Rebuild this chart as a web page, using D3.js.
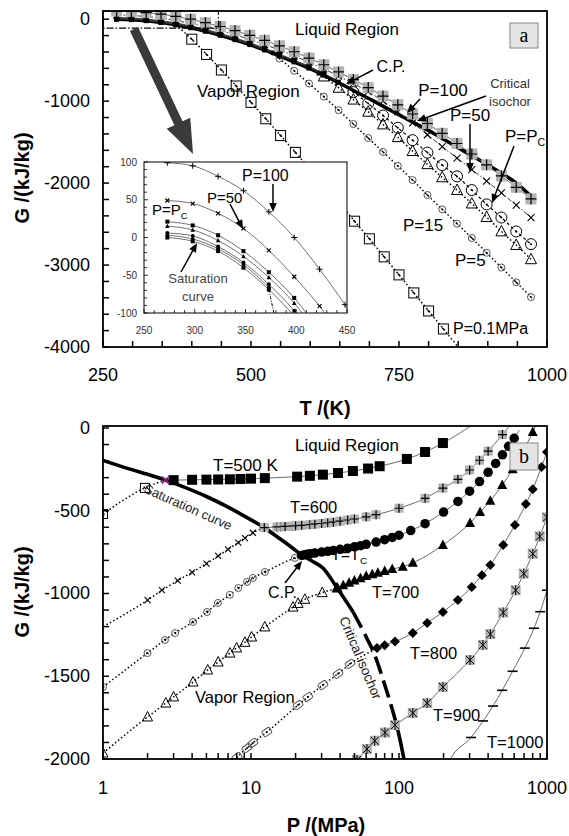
<!DOCTYPE html>
<html><head><meta charset="utf-8">
<script src="https://cdn.jsdelivr.net/npm/d3@7"></script>
<style>
body{margin:0;background:#fff;}
svg{display:block;font-family:"Liberation Sans",Arial,Helvetica,sans-serif;}
</style></head><body>
<svg id="chart" width="569" height="836"></svg>
<script>
// ===== Panel (a): Gibbs energy G vs temperature T along isobars =====
const tTicksA = [250, 500, 750, 1000];
const gTicksA = [0, -1000, -2000, -3000, -4000];
const insetTicksT = [250, 300, 350, 400, 450];
const insetTicksG = [100, 50, 0, -50, -100];

const tGrid = [273, 298, 323, 348, 373, 398, 423, 448, 473, 498, 523, 548, 573, 598, 623, 648, 673, 698, 723, 748, 773, 798, 823, 848, 873, 898, 923, 948, 973];
const gP100 = [99, 95, 81, 62, 34, 0, -42, -89, -140, -197, -258, -325, -397, -474, -556, -644, -737, -835, -938, -1045, -1157, -1273, -1393, -1517, -1645, -1777, -1912, -2051, -2193];
const gP50 = [49, 45, 32, 12, -17, -52, -91, -138, -190, -247, -309, -376, -448, -525, -607, -695, -785, -885, -1000, -1130, -1265, -1410, -1555, -1695, -1835, -1975, -2120, -2270, -2420];

const tPcLiq = [273, 298, 323, 348, 373, 398, 423, 448, 473, 498, 523, 548, 573, 598, 623, 647.1];
const gPcLiq = [21, 16, 3, -18, -46, -80, -124, -172, -227, -287, -352, -423, -500, -580, -667, -770];
const tPcGas = [647.1, 673, 698, 723, 748, 773, 798, 823, 848, 873, 898, 923, 948, 973];
const gPcGas = [-770, -890, -1030, -1175, -1325, -1476, -1628, -1780, -1918, -2085, -2260, -2420, -2590, -2745];

const tP15Liq = [273, 298, 323, 348, 373, 398, 423, 448, 473, 498, 523, 548, 573, 598, 615];
const gP15Liq = [15, 10, -4, -25, -53, -87, -131, -180, -236, -297, -363, -435, -512, -592, -657];
const tP15Gas = [615, 623, 648, 673, 698, 723, 748, 773, 798, 823, 848, 873, 898, 923, 948, 973];
const gP15Gas = [-657, -700, -838, -982, -1130, -1285, -1440, -1610, -1770, -1930, -2085, -2250, -2415, -2590, -2756, -2930];

const tP5Liq = [273, 298, 323, 348, 373, 398, 423, 448, 473, 498, 523, 537];
const gP5Liq = [6, 2, -12, -33, -62, -97, -141, -191, -247, -307, -374, -414];
const tP5Gas = [537, 548, 573, 598, 623, 648, 673, 698, 723, 748, 773, 798, 823, 848, 873, 898, 923, 948, 973];
const gP5Gas = [-414, -480, -630, -785, -945, -1110, -1280, -1450, -1620, -1790, -1963, -2145, -2320, -2495, -2670, -2850, -3030, -3210, -3390];

const tP01Liq = [273, 298, 323, 348, 373];
const gP01Liq = [3, -2, -15, -36, -66];
const tP01Gas = [373, 400, 425, 450, 475, 500, 525, 550, 575, 600, 625, 650, 675, 700, 725, 750, 775, 800, 825, 850];
const gP01Gas = [-69, -244, -430, -620, -815, -1015, -1215, -1420, -1625, -1830, -2040, -2250, -2465, -2680, -2900, -3120, -3340, -3560, -3780, -4000];

const tSat = [273, 298, 323, 348, 373, 398, 423, 448, 473, 498, 523, 548, 573, 598, 623, 647.1];
const gSat = [0, -5, -18, -40, -69, -104, -147, -196, -250, -310, -375, -447, -521, -596, -683, -770];

const tIsoA = [647.1, 673, 698, 723, 748, 773, 798, 823, 848, 873, 898, 923, 948, 973];
const gIsoA = [-770, -870, -965, -1060, -1160, -1255, -1350, -1455, -1560, -1665, -1770, -1880, -2000, -2160];

// ===== Panel (b): Gibbs energy G vs pressure P along isotherms =====
const pTicksB = [1, 10, 100, 1000];
const gTicksB = [0, -500, -1000, -1500, -2000];

const pSat = [1, 1.5, 2, 2.64, 3.5, 5, 7, 10, 12.3, 15, 18, 20, 22.064];
const gSatB = [-196, -247, -280, -315, -356, -414, -478, -555, -602, -657, -708, -739, -770];
const pIso = [22.064, 26, 30.6, 38.2, 49, 61, 67, 73, 78, 84, 90, 96, 102, 108, 114];
const gIso = [-770, -805, -846, -967, -1112, -1275, -1350, -1440, -1520, -1610, -1700, -1790, -1890, -2000, -2100];

const p500Gas = [1, 1.92, 2.64];
const g500Gas = [-520, -362, -315];
const p500Liq = [2.64, 3, 4, 5, 6, 7.2, 8.5, 10, 12.4, 20.5, 25, 30.6, 38.7, 48.8, 61.8, 74, 113, 150, 198, 250, 320];
const g500Liq = [-315, -315, -313, -312, -311, -310, -308, -306, -303, -294, -289, -282, -272, -260, -245, -231, -187, -145, -91, -38, 25];

const p600Gas = [1, 2, 2.5, 3.2, 4, 5, 6, 7, 8.2, 9.1, 10.3, 12.3];
const g600Gas = [-1200, -1040, -980, -922, -872, -820, -773, -733, -692, -665, -633, -602];
const p600Liq = [12.3, 15, 16, 17, 19, 20, 22, 25, 27, 30, 33, 36, 40, 45, 50, 60, 70, 100, 150, 198, 250, 300, 350, 400, 500, 560];
const g600Liq = [-602, -598, -597, -595, -593, -591, -588, -584, -581, -577, -573, -569, -563, -556, -550, -537, -524, -485, -425, -363, -310, -254, -195, -140, -40, 15];

const pTcGas = [1, 2, 2.62, 3.07, 4.06, 5.04, 5.98, 7.2, 8.2, 9.4, 10.3, 12.4, 19.8, 22.064];
const gTcGas = [-1565, -1360, -1281, -1239, -1172, -1112, -1057, -1008, -967, -930, -906, -870, -785, -770];
const pTcLiq = [22.064, 23, 24, 25, 27, 30, 33, 36, 40, 45, 50, 55, 60, 70, 80, 90, 100, 120, 150, 200, 250, 300, 350, 400, 450, 500, 550, 600, 650];
const gTcLiq = [-770, -766, -763, -760, -756, -750, -745, -740, -733, -726, -718, -711, -703, -689, -675, -661, -648, -620, -578, -508, -444, -382, -324, -268, -214, -162, -111, -62, -14];

const p700Gas = [1, 2, 2.66, 3.0, 4.06, 5.1, 6.0, 7.2, 8.0, 9.1, 10.1, 12.4, 19.2, 20.8, 23.1, 30.3, 38.2];
const g700Gas = [-1964, -1746, -1662, -1625, -1535, -1462, -1414, -1360, -1329, -1295, -1263, -1202, -1082, -1060, -1035, -995, -967];
const p700Liq = [38.2, 42, 46, 50, 55, 60, 66, 72, 80, 90, 106, 124, 198, 302, 353, 414, 498, 586, 650, 801, 850];
const g700Liq = [-967, -950, -935, -922, -908, -895, -884, -874, -864, -852, -838, -815, -707, -574, -508, -440, -345, -250, -182, -24, 27];

const p800Gas = [6.5, 8.05, 9.4, 10.3, 12.8, 20.8, 24.2, 30.6, 38.7, 46.7, 66.6];
const g800Gas = [-2080, -1988, -1934, -1903, -1837, -1674, -1625, -1553, -1485, -1425, -1345];
const p800Liq = [66.6, 71, 80, 94, 124, 155, 198, 250, 310, 363, 414, 506, 607, 720, 801, 919, 1000];
const g800Liq = [-1345, -1330, -1312, -1290, -1239, -1178, -1112, -1040, -961, -890, -828, -707, -586, -460, -370, -235, -145];

const p900 = [40, 45, 52, 60.7, 68.6, 80.4, 94, 124, 155, 198, 302, 369, 414, 506, 614, 697, 801, 894, 1000];
const g900 = [-2120, -2060, -2006, -1940, -1890, -1840, -1795, -1722, -1662, -1565, -1402, -1311, -1245, -1115, -980, -880, -760, -655, -540];

const p1000 = [200, 220, 307, 370, 432, 498, 586, 708, 817, 900, 1000];
const g1000 = [-2100, -2010, -1870, -1770, -1680, -1585, -1470, -1330, -1210, -1110, -980];

// ===== drawing =====
const svg = d3.select("#chart");
const ax = d3.scaleLinear().domain([250, 1000]).range([103, 547]);
const ay = d3.scaleLinear().domain([-4000, 100]).range([347, 11]);
const ix = d3.scaleLinear().domain([250, 450]).range([144, 347]);
const iy = d3.scaleLinear().domain([-100, 100]).range([313, 162]);
const bx = d3.scaleLog().domain([1, 1000]).range([103, 547]);
const by = d3.scaleLinear().domain([-2000, 12]).range([759, 426]);

const defs = svg.append("defs");
function clip(id, x, y, w, h) {
  defs.append("clipPath").attr("id", id).append("rect").attr("x", x).attr("y", y).attr("width", w).attr("height", h);
}
clip("clipA", 103, 11, 444, 336);
clip("clipI", 144, 162, 203, 151);
clip("clipB", 103, 426, 444, 333);

function mark(g, type, s) {
  const h = s / 2, k = "#000";
  switch (type) {
    case "plusGray":
      g.append("rect").attr("x", -h).attr("y", -h).attr("width", s).attr("height", s).attr("fill", "#b3b3b3");
      g.append("path").attr("d", `M${-h},0H${h}M0,${-h}V${h}`).attr("stroke", k).attr("stroke-width", 1.2);
      break;
    case "plus":
      g.append("path").attr("d", `M${-h},0H${h}M0,${-h}V${h}`).attr("stroke", k).attr("stroke-width", 1);
      break;
    case "cross":
      g.append("path").attr("d", `M${-h},${-h}L${h},${h}M${-h},${h}L${h},${-h}`).attr("stroke", k).attr("stroke-width", 1.1);
      break;
    case "crossGray":
      g.append("rect").attr("x", -h).attr("y", -h).attr("width", s).attr("height", s).attr("fill", "#b3b3b3");
      g.append("path").attr("d", `M${-h * 0.8},${-h * 0.8}L${h * 0.8},${h * 0.8}M${-h * 0.8},${h * 0.8}L${h * 0.8},${-h * 0.8}M0,${-h}V${h}`).attr("stroke", k).attr("stroke-width", 1);
      break;
    case "purpleX":
      g.append("path").attr("d", `M${-h},${-h}L${h},${h}M${-h},${h}L${h},${-h}`).attr("stroke", "#8a1a8a").attr("stroke-width", 1.6);
      break;
    case "sqF":
      g.append("rect").attr("x", -h).attr("y", -h).attr("width", s).attr("height", s).attr("fill", k);
      break;
    case "triF":
      g.append("path").attr("d", `M0,${-h * 1.1}L${h},${h * 0.8}L${-h},${h * 0.8}Z`).attr("fill", k);
      break;
    case "triO":
      g.append("path").attr("d", `M0,${-h * 1.1}L${h},${h * 0.8}L${-h},${h * 0.8}Z`).attr("fill", "none").attr("stroke", k).attr("stroke-width", 1);
      break;
    case "circF":
      g.append("circle").attr("r", h).attr("fill", k);
      break;
    case "diaF":
      g.append("path").attr("d", `M0,${-h}L${h},0L0,${h}L${-h},0Z`).attr("fill", k);
      break;
    case "circDot":
      g.append("circle").attr("r", h).attr("fill", "none").attr("stroke", k).attr("stroke-width", 1);
      g.append("circle").attr("r", 1).attr("fill", k);
      break;
    case "circDotGray":
      g.append("circle").attr("r", h).attr("fill", "none").attr("stroke", "#555").attr("stroke-width", 1);
      g.append("path").attr("d", "M-1,-1L1,1").attr("stroke", "#000").attr("stroke-width", 1.2);
      break;
    case "sqDot":
      g.append("rect").attr("x", -h).attr("y", -h).attr("width", s).attr("height", s).attr("fill", "none").attr("stroke", k).attr("stroke-width", 1);
      g.append("path").attr("d", "M-1.3,-1.3L1.3,1.3").attr("stroke", k).attr("stroke-width", 1.4);
      break;
    case "sqDotGray":
      g.append("rect").attr("x", -h).attr("y", -h * 0.7).attr("width", s).attr("height", s * 0.7).attr("rx", 1.5).attr("transform", "rotate(-35)")
        .attr("fill", "none").attr("stroke", "#555").attr("stroke-width", 1);
      g.append("circle").attr("r", 1).attr("fill", k);
      break;
    case "dash":
      g.append("path").attr("d", `M${-h},0H${h}`).attr("stroke", k).attr("stroke-width", 1.6);
      break;
  }
}

function line(g, X, Y, xs, ys, st) {
  const pts = xs.map((v, i) => [X(v), Y(ys[i])]);
  g.append("path").attr("d", d3.line().curve(d3.curveMonotoneX)(pts))
    .attr("fill", "none").attr("stroke", st.color || "#333")
    .attr("stroke-width", st.width || 0.8)
    .attr("stroke-dasharray", st.dash || null);
}
const DOT = { width: 1.5, dash: "1.5,2.4", color: "#000" };
const THIN = { width: 0.8, color: "#444" };
const THICK = { width: 3.6, color: "#000" };

function marks(g, X, Y, xs, ys, type, size, from, to) {
  from = from == null ? 0 : from;
  to = to == null ? xs.length - 1 : to;
  const data = d3.range(from, to + 1).map(i => [X(xs[i]), Y(ys[i])]);
  g.selectAll(null).data(data).join("g")
    .attr("transform", d => `translate(${d[0]},${d[1]})`)
    .each(function () { mark(d3.select(this), type, size); });
}

function txt(g, x, y, s, o) {
  o = o || {};
  return g.append("text").attr("x", x).attr("y", y).text(s)
    .attr("font-size", o.size || 17).attr("fill", o.color || "#000")
    .attr("text-anchor", o.anchor || "start")
    .attr("font-weight", o.weight || "normal")
    .attr("font-family", o.family || null);
}
function subTxt(g, x, y, main, sub, size, anchor) {
  const t = g.append("text").attr("x", x).attr("y", y).attr("font-size", size).attr("text-anchor", anchor || "start");
  t.append("tspan").text(main);
  t.append("tspan").attr("font-size", size * 0.62).attr("dy", size * 0.25).text(sub);
  return t;
}
function arrow(g, x1, y1, x2, y2, o) {
  o = o || {};
  const w = o.w || 1.5, hl = o.hl || 9, hw = o.hw || 3.8, c = o.color || "#000";
  const dx = x2 - x1, dy = y2 - y1, L = Math.hypot(dx, dy), ux = dx / L, uy = dy / L, nx = -uy, ny = ux;
  const bx0 = x2 - ux * hl, by0 = y2 - uy * hl;
  g.append("line").attr("x1", x1).attr("y1", y1).attr("x2", bx0 + ux).attr("y2", by0 + uy).attr("stroke", c).attr("stroke-width", w);
  g.append("path").attr("d", `M${x2},${y2}L${bx0 + nx * hw},${by0 + ny * hw}L${bx0 - nx * hw},${by0 - ny * hw}Z`).attr("fill", c);
}

// ---------- Panel (a) ----------
const A = svg.append("g");
const Aplot = A.append("g").attr("clip-path", "url(#clipA)");

// thick saturation curve and critical isochor
line(Aplot, ax, ay, tSat, gSat, THICK);
line(Aplot, ax, ay, tIsoA, gIsoA, THICK);
// isobar lines
line(Aplot, ax, ay, tGrid, gP100, THIN);
line(Aplot, ax, ay, tGrid, gP50, { width: 0.9, color: "#222", dash: "5,2,1.5,2" });
line(Aplot, ax, ay, tPcLiq, gPcLiq, THIN);
line(Aplot, ax, ay, tPcGas, gPcGas, { width: 1.2, color: "#000", dash: "3,2.5" });
line(Aplot, ax, ay, tP15Liq, gP15Liq, THIN);
line(Aplot, ax, ay, tP15Gas, gP15Gas, DOT);
line(Aplot, ax, ay, tP5Liq, gP5Liq, THIN);
line(Aplot, ax, ay, tP5Gas, gP5Gas, DOT);
line(Aplot, ax, ay, tP01Liq, gP01Liq, THIN);
line(Aplot, ax, ay, tP01Gas, gP01Gas, DOT);
// markers
marks(Aplot, ax, ay, tP01Gas, gP01Gas, "sqDot", 10, 1, 18);
marks(Aplot, ax, ay, tP5Gas, gP5Gas, "circDotGray", 7, 1);
marks(Aplot, ax, ay, tP15Gas, gP15Gas, "triO", 11, 1);
marks(Aplot, ax, ay, tPcGas, gPcGas, "circDot", 11, 1);
marks(Aplot, ax, ay, tSat, gSat, "sqF", 5);
marks(Aplot, ax, ay, tP01Liq, gP01Liq, "sqF", 5);
marks(Aplot, ax, ay, tP5Liq, gP5Liq, "circF", 5);
marks(Aplot, ax, ay, tP15Liq, gP15Liq, "triF", 6);
marks(Aplot, ax, ay, tPcLiq, gPcLiq, "sqF", 5);
marks(Aplot, ax, ay, tGrid, gP50, "cross", 7);
marks(Aplot, ax, ay, tGrid, gP100, "plusGray", 11);

// zoomed window outline (extent of the inset)
A.append("rect").attr("x", ax(250)).attr("y", ay(100)).attr("width", ax(445) - ax(250)).attr("height", ay(-110) - ay(100))
  .attr("fill", "none").attr("stroke", "#000").attr("stroke-width", 1.2).attr("stroke-dasharray", "7,2,1.5,2");

// big arrow toward the inset
(function () {
  const x1 = 134, y1 = 29, x2 = 193, y2 = 154;
  const dx = x2 - x1, dy = y2 - y1, L = Math.hypot(dx, dy), ux = dx / L, uy = dy / L, nx = -uy, ny = ux;
  const sw = 4.5, hw = 13, hl = 34;
  const bx0 = x2 - ux * hl, by0 = y2 - uy * hl;
  const p = [[x1 + nx * sw, y1 + ny * sw], [bx0 + nx * sw, by0 + ny * sw], [bx0 + nx * hw, by0 + ny * hw], [x2, y2],
  [bx0 - nx * hw, by0 - ny * hw], [bx0 - nx * sw, by0 - ny * sw], [x1 - nx * sw, y1 - ny * sw]];
  A.append("path").attr("d", "M" + p.map(q => q.join(",")).join("L") + "Z").attr("fill", "#3a3a3a");
})();

// inset
const I = A.append("g");
I.append("rect").attr("x", 144).attr("y", 162).attr("width", 203).attr("height", 151).attr("fill", "#fff").attr("stroke", "#000").attr("stroke-width", 1);
const Iplot = I.append("g").attr("clip-path", "url(#clipI)");
const ITHIN = { width: 0.7, color: "#333" };
line(Iplot, ix, iy, tGrid, gP100, ITHIN);
line(Iplot, ix, iy, tGrid, gP50, ITHIN);
line(Iplot, ix, iy, tPcLiq, gPcLiq, ITHIN);
line(Iplot, ix, iy, tP15Liq, gP15Liq, ITHIN);
line(Iplot, ix, iy, tP5Liq, gP5Liq, ITHIN);
line(Iplot, ix, iy, tP01Liq, gP01Liq, ITHIN);
line(Iplot, ix, iy, tSat, gSat, ITHIN);
line(Iplot, ix, iy, tP01Gas, gP01Gas, { width: 1, color: "#000", dash: "3,1.5,1,1.5" });
marks(Iplot, ix, iy, tGrid, gP100, "plus", 6);
marks(Iplot, ix, iy, tGrid, gP50, "cross", 4);
marks(Iplot, ix, iy, tPcLiq, gPcLiq, "sqF", 4);
marks(Iplot, ix, iy, tP15Liq, gP15Liq, "triF", 4.5);
marks(Iplot, ix, iy, tP5Liq, gP5Liq, "circF", 4);
marks(Iplot, ix, iy, tP01Liq, gP01Liq, "diaF", 4.5);
marks(Iplot, ix, iy, tSat, gSat, "sqF", 4);
// inset ticks
d3.range(250, 451, 10).forEach(t => I.append("line").attr("x1", ix(t)).attr("x2", ix(t)).attr("y1", 313).attr("y2", t % 50 ? 310 : 309).attr("stroke", "#000").attr("stroke-width", 0.8));
d3.range(-100, 101, 10).forEach(v => I.append("line").attr("x1", 144).attr("x2", v % 50 ? 147 : 148).attr("y1", iy(v)).attr("y2", iy(v)).attr("stroke", "#000").attr("stroke-width", 0.8));
insetTicksT.forEach(t => txt(I, ix(t), 334, t, { size: 10, anchor: "middle", color: "#333" }));
insetTicksG.forEach(v => txt(I, 137, iy(v) + 3.5, v, { size: 10, anchor: "end", color: "#333" }));
// inset labels
txt(I, 242, 181, "P=100", { size: 16 });
arrow(I, 273, 184, 273, 212);
txt(I, 207, 203, "P=50", { size: 15 });
arrow(I, 230, 204, 243, 229);
subTxt(I, 152, 215, "P=P", "C", 15);
txt(I, 198, 283, "Saturation", { size: 13, anchor: "middle", color: "#444" });
txt(I, 198, 301, "curve", { size: 13, anchor: "middle", color: "#444" });
arrow(I, 181, 272, 197, 243);

// frame and ticks of panel (a)
A.append("rect").attr("x", 103).attr("y", 11).attr("width", 444).attr("height", 336).attr("fill", "none").attr("stroke", "#000").attr("stroke-width", 1.8);
d3.range(250, 1001, 50).forEach(t => A.append("line").attr("x1", ax(t)).attr("x2", ax(t)).attr("y1", 347).attr("y2", 341).attr("stroke", "#000").attr("stroke-width", 1.5));
d3.range(-4000, 1, 200).forEach(v => A.append("line").attr("x1", 103).attr("x2", 109).attr("y1", ay(v)).attr("y2", ay(v)).attr("stroke", "#000").attr("stroke-width", 1.5));
tTicksA.forEach(t => txt(A, ax(t), 381, t, { size: 18, anchor: "middle" }));
gTicksA.forEach(v => txt(A, 90, ay(v) + 6, v, { size: 18, anchor: "end" }));
txt(A, 325, 415, "T /(K)", { size: 20, anchor: "middle", weight: "bold" });
A.append("text").attr("transform", "translate(29,178) rotate(-90)").attr("text-anchor", "middle")
  .attr("font-size", 20).attr("font-weight", "bold").text("G /(kJ/kg)");

// annotations of panel (a)
txt(A, 295, 35, "Liquid Region", { size: 17 });
txt(A, 197, 97, "Vapor Region", { size: 17 });
txt(A, 391, 72, "C.P.", { size: 16, anchor: "middle" });
arrow(A, 373, 70, 346, 84);
txt(A, 443, 96, "P=100", { size: 17, anchor: "middle" });
arrow(A, 420, 99, 407, 113);
txt(A, 510, 88, "Critical", { size: 13, anchor: "middle", color: "#333" });
txt(A, 510, 106, "isochor", { size: 13, anchor: "middle", color: "#333" });
arrow(A, 486, 96, 417, 121);
txt(A, 470, 121, "P=50", { size: 17, anchor: "middle" });
arrow(A, 470, 124, 470, 172);
subTxt(A, 505, 142, "P=P", "C", 17);
arrow(A, 514, 146, 492, 203);
txt(A, 403, 231, "P=15", { size: 17 });
txt(A, 455, 266, "P=5", { size: 17 });
txt(A, 453, 334, "P=0.1MPa", { size: 16 });
A.append("rect").attr("x", 510).attr("y", 23).attr("width", 28).attr("height", 25).attr("fill", "#e4e4e4").attr("stroke", "#888").attr("stroke-width", 1);
txt(A, 524, 42, "a", { size: 20, anchor: "middle", family: "'Liberation Serif', 'Times New Roman', serif" });

// ---------- Panel (b) ----------
const B = svg.append("g");
const Bplot = B.append("g").attr("clip-path", "url(#clipB)");

// thick saturation curve and critical isochor (dashed in its middle part)
line(Bplot, bx, by, pSat, gSatB, THICK);
const isoA = pIso.map((p, i) => i).filter(i => pIso[i] <= 49);
const isoM = pIso.map((p, i) => i).filter(i => pIso[i] >= 49 && pIso[i] <= 92);
const isoZ = pIso.map((p, i) => i).filter(i => pIso[i] >= 90);
line(Bplot, bx, by, isoA.map(i => pIso[i]), isoA.map(i => gIso[i]), THICK);
line(Bplot, bx, by, isoM.map(i => pIso[i]), isoM.map(i => gIso[i]), { width: 3.6, color: "#000", dash: "18,7" });
line(Bplot, bx, by, isoZ.map(i => pIso[i]), isoZ.map(i => gIso[i]), THICK);

// T = Tc label sits beneath the markers
subTxt(B, 331, 560, "T=T", "C", 16);

// isotherm lines
line(Bplot, bx, by, p500Gas, g500Gas, DOT);
line(Bplot, bx, by, p500Liq, g500Liq, THIN);
line(Bplot, bx, by, p600Gas, g600Gas, DOT);
line(Bplot, bx, by, p600Liq, g600Liq, THIN);
line(Bplot, bx, by, pTcGas, gTcGas, DOT);
line(Bplot, bx, by, pTcLiq, gTcLiq, THIN);
line(Bplot, bx, by, p700Gas, g700Gas, DOT);
line(Bplot, bx, by, p700Liq, g700Liq, THIN);
line(Bplot, bx, by, p800Gas, g800Gas, DOT);
line(Bplot, bx, by, p800Liq, g800Liq, THIN);
line(Bplot, bx, by, p900, g900, THIN);
line(Bplot, bx, by, p1000, g1000, THIN);
// isotherm markers
marks(Bplot, bx, by, p500Gas, g500Gas, "sqDot", 9, 0, 1);
marks(Bplot, bx, by, p500Liq, g500Liq, "sqF", 10, 1, 18);
marks(Bplot, bx, by, p500Liq, g500Liq, "purpleX", 7, 0, 0);
marks(Bplot, bx, by, p600Gas, g600Gas, "cross", 6, 1, 10);
marks(Bplot, bx, by, p600Liq, g600Liq, "plusGray", 9, 0, 24);
marks(Bplot, bx, by, pTcGas, gTcGas, "circDotGray", 7, 0, 12);
marks(Bplot, bx, by, pTcLiq, gTcLiq, "circF", 9.5, 0, 27);
marks(Bplot, bx, by, p700Gas, g700Gas, "triO", 10, 0, 16);
marks(Bplot, bx, by, p700Liq, g700Liq, "triF", 10, 0, 19);
marks(Bplot, bx, by, p800Gas, g800Gas, "sqDotGray", 9, 1, 9);
marks(Bplot, bx, by, p800Liq, g800Liq, "diaF", 10, 1, 16);
marks(Bplot, bx, by, p900, g900, "crossGray", 10, 2, 18);
marks(Bplot, bx, by, p1000, g1000, "dash", 10, 2, 10);

// frame and ticks of panel (b)
B.append("rect").attr("x", 103).attr("y", 426).attr("width", 444).attr("height", 333).attr("fill", "none").attr("stroke", "#000").attr("stroke-width", 1.8);
const decadeTicks = [];
[1, 10, 100].forEach(d => d3.range(1, 10).forEach(m => decadeTicks.push(d * m)));
decadeTicks.push(1000);
decadeTicks.forEach(p => B.append("line").attr("x1", bx(p)).attr("x2", bx(p)).attr("y1", 759).attr("y2", 753).attr("stroke", "#000").attr("stroke-width", 1.5));
d3.range(-2000, 1, 100).forEach(v => B.append("line").attr("x1", 103).attr("x2", 109).attr("y1", by(v)).attr("y2", by(v)).attr("stroke", "#000").attr("stroke-width", 1.5));
pTicksB.forEach(p => txt(B, bx(p), 794, p, { size: 18, anchor: "middle" }));
gTicksB.forEach(v => txt(B, 90, by(v) + 6, v, { size: 18, anchor: "end" }));
txt(B, 326, 832, "P /(MPa)", { size: 20, anchor: "middle", weight: "bold" });
B.append("text").attr("transform", "translate(29,592) rotate(-90)").attr("text-anchor", "middle")
  .attr("font-size", 20).attr("font-weight", "bold").text("G /(kJ/kg)");

// annotations of panel (b)
txt(B, 295, 451, "Liquid Region", { size: 17 });
txt(B, 213, 471, "T=500 K", { size: 17 });
txt(B, 290, 513, "T=600", { size: 16.5 });
txt(B, 372, 598, "T=700", { size: 16.5 });
txt(B, 410, 659, "T=800", { size: 16.5 });
txt(B, 433, 721, "T=900", { size: 16.5 });
txt(B, 487, 748, "T=1000", { size: 16.5 });
txt(B, 268, 598, "C.P.", { size: 16 });
arrow(B, 285, 583, 302, 561);
txt(B, 195, 703, "Vapor Region", { size: 16.5 });
txt(B, 0, 0, "Saturation curve", { size: 13, color: "#222" }).attr("transform", "translate(143,492) rotate(24)");
txt(B, 0, 0, "Critical isochor", { size: 13.5, color: "#222" }).attr("transform", "translate(339,619) rotate(67)");
B.append("rect").attr("x", 510).attr("y", 443).attr("width", 28).attr("height", 27).attr("fill", "#e4e4e4").attr("stroke", "#888").attr("stroke-width", 1);
txt(B, 524, 463, "b", { size: 20, anchor: "middle", family: "'Liberation Serif', 'Times New Roman', serif" });
</script>
</body></html>
